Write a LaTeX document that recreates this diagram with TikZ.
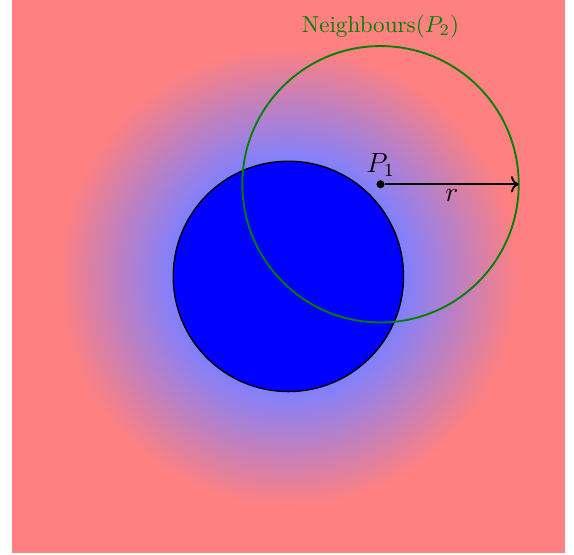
\documentclass[tikz,border=0pt]{standalone}
\usetikzlibrary{arrows.meta,positioning}

\pgfdeclareradialshading{halo}{\pgfpoint{0bp}{0bp}}{%
  color(0bp)=(blue!50); color(12.5bp)=(blue!50);
  color(25bp)=(red!50); color(50bp)=(red!50)}

\begin{document}
\begin{tikzpicture}[
  x=0.7cm, y=0.7cm,
  obstacle/.style={draw=black, semithick, fill=blue},
  reach/.style={draw=green!50!black, thick},
  pt/.style={circle, fill=black, inner sep=0pt, minimum size=3.5pt},
  radius/.style={draw=black, thick, ->},
  lbl/.style={text=green!50!black}
]
\useasboundingbox (-6.26,-6.04) rectangle (6.2,6);
% field
\fill[red!50] (-6,-6) rectangle (6,6);
\shade[shading=halo] (0,0) circle (5);
\draw[obstacle] (0,0) circle (2.5);
% neighbourhood
\node[pt, label={[inner sep=1pt, font=\large]above:$P_1$}] (p1) at (2,2) {};
\draw[reach] (p1.center) circle (3);
\node[lbl, above] (nb) at (2,5) {Neighbours($P_2$)};
\coordinate (rend) at (5,2);
\draw[radius] (p1) -- (rend) node[midway, below, font=\large, inner sep=2pt] {$r$};
\end{tikzpicture}
\end{document}
